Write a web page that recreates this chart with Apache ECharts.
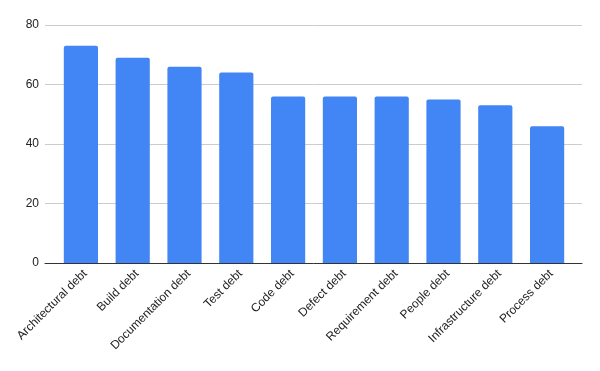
<!DOCTYPE html>
<html><head><meta charset="utf-8">
<script src="https://cdn.jsdelivr.net/npm/echarts@6/dist/echarts.min.js"></script>
<style>html,body{margin:0;padding:0;background:#fff}#c{width:600px;height:371px}</style>
</head><body><div id="c"></div>
<script>
const categories = ["Architectural debt","Build debt","Documentation debt","Test debt","Code debt","Defect debt","Requirement debt","People debt","Infrastructure debt","Process debt"];
const values = [73, 69, 66, 64, 56, 56, 56, 55, 53, 46];
const yTicks = [0, 20, 40, 60, 80];

const chart = echarts.init(document.getElementById('c'), null, {renderer:'canvas'});
const font = {fontFamily:'Liberation Sans, Arial, sans-serif', fontSize:12, color:'#222'};
chart.setOption({
  animation:false,
  grid:[
    {left:45, right:18, top:25, bottom:108},
    {left:55, right:27, top:25, bottom:108}
  ],
  xAxis:[
    {gridIndex:0, type:'value', min:0, max:1, axisLabel:{show:false}, axisTick:{show:false}, splitLine:{show:false},
     axisLine:{show:true, onZero:false, lineStyle:{color:'#333', width:1}}},
    {gridIndex:1, type:'category', data:categories, boundaryGap:true,
     axisLine:{show:false}, axisTick:{show:false},
     axisLabel:Object.assign({rotate:45, interval:0, margin:13, padding:[0,-6,0,0]}, font)}
  ],
  yAxis:[
    {gridIndex:0, type:'value', min:yTicks[0], max:yTicks[yTicks.length-1], interval:20,
     axisLine:{show:false}, axisTick:{show:false},
     axisLabel:Object.assign({margin:6}, font),
     splitLine:{lineStyle:{color:'#cccccc', width:1}}},
    {gridIndex:1, type:'value', min:yTicks[0], max:yTicks[yTicks.length-1], interval:20, show:false}
  ],
  series:[{
    type:'bar', xAxisIndex:1, yAxisIndex:1, data:values, barCategoryGap:'34%',
    itemStyle:{color:'#4285F4', borderRadius:[2,2,0,0]}
  }]
});
</script></body></html>
